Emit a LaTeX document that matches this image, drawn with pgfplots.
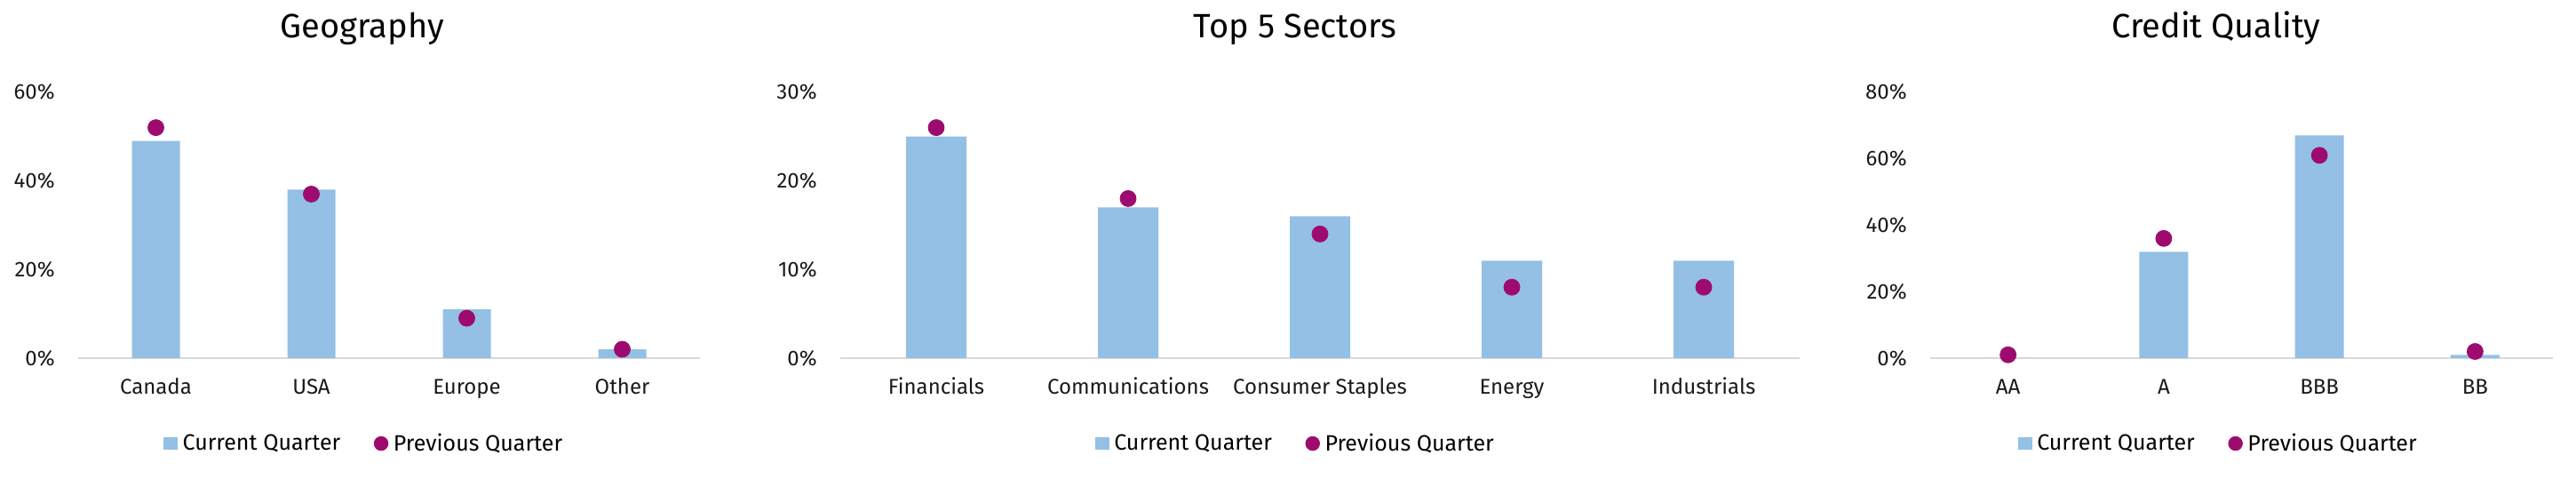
\documentclass[border=0pt]{standalone}
\usepackage{fontspec}
\setmainfont{Fira Sans}
\usepackage{pgfplots}
\pgfplotsset{compat=1.18}
\definecolor{barblue}{HTML}{93C0E4}
\definecolor{dotc}{HTML}{9E0B6E}
\definecolor{axisgray}{HTML}{D9D9D9}
\definecolor{txt}{HTML}{1A1A1A}

\pgfplotsset{
  panel/.style={
    scale only axis,
    height=149.65pt,
    ymin=0,
    clip=false,
    axis x line*=bottom,
    axis y line*=left,
    y axis line style={draw=none},
    x axis line style={axisgray, line width=1pt},
    tick style={draw=none},
    /pgf/number format/assume math mode=true,
    yticklabel={\pgfmathprintnumber{\tick}\%},
    yticklabel style={anchor=east, inner sep=0pt, xshift=-13pt},
    xticklabel style={anchor=base, inner sep=0pt, yshift=-20.5pt},
    tick label style={font=\fontsize{12}{14}\selectfont, text=txt},
    title style={anchor=base, font=\fontsize{19}{22}\selectfont},
    legend columns=2,
    legend style={draw=none, anchor=center, font=\fontsize{12.5}{15}\selectfont,
      /tikz/every even column/.append style={column sep=16pt},
      nodes={inner xsep=2.8pt, inner ysep=1pt}},
  },
  cur/.style={ybar, bar width=#1, fill=barblue, draw=none,
    legend image code/.code={\fill[barblue] (0pt,-3.6pt) rectangle (8pt,3.6pt);}},
  prev/.style={only marks, mark=*, mark size=4.5pt, color=dotc,
    legend image code/.code={\fill[dotc] (3.9pt,0pt) circle (3.9pt);}},
}

\begin{document}
\begin{tikzpicture}
\useasboundingbox (0,0) rectangle (1450pt,269.5pt);

% Geography
\begin{axis}[panel,
  at={(44pt,68pt)}, anchor=south west,
  width=350pt, ymax=60, ytick distance=20,
  xmin=-0.5, xmax=3.5, xtick={0,1,2,3},
  xticklabels={Canada,USA,Europe,Other},
  title={Geography}, title style={at={(0.457,1.165)}},
  legend style={at={(0.462,-0.321)}},
]
\addplot[cur=27pt] coordinates {(0,49) (1,38) (2,11) (3,2)};
\addlegendentry{Current Quarter}
\addplot[prev] coordinates {(0,52) (1,37) (2,9) (3,2)};
\addlegendentry{Previous Quarter}
\end{axis}

% Top 5 Sectors
\begin{axis}[panel,
  at={(473pt,68pt)}, anchor=south west,
  width=540pt, ymax=30, ytick distance=10,
  xmin=-0.5, xmax=4.5, xtick={0,1,2,3,4},
  xticklabels={Financials,Communications,Consumer Staples,Energy,Industrials},
  title={Top 5 Sectors}, title style={at={(0.474,1.165)}},
  legend style={at={(0.476,-0.321)}},
]
\addplot[cur=34pt] coordinates {(0,25) (1,17) (2,16) (3,11) (4,11)};
\addlegendentry{Current Quarter}
\addplot[prev] coordinates {(0,26) (1,18) (2,14) (3,8) (4,8)};
\addlegendentry{Previous Quarter}
\end{axis}

% Credit Quality
\begin{axis}[panel,
  at={(1086.5pt,68pt)}, anchor=south west,
  width=350.5pt, ymax=80, ytick distance=20,
  xmin=-0.5, xmax=3.5, xtick={0,1,2,3},
  xticklabels={AA,A,BBB,BB},
  title={Credit Quality}, title style={at={(0.459,1.165)}},
  legend style={at={(0.465,-0.321)}},
]
\addplot[cur=27.5pt] coordinates {(0,0) (1,32) (2,67) (3,1)};
\addlegendentry{Current Quarter}
\addplot[prev] coordinates {(0,1) (1,36) (2,61) (3,2)};
\addlegendentry{Previous Quarter}
\end{axis}
\end{tikzpicture}
\end{document}
